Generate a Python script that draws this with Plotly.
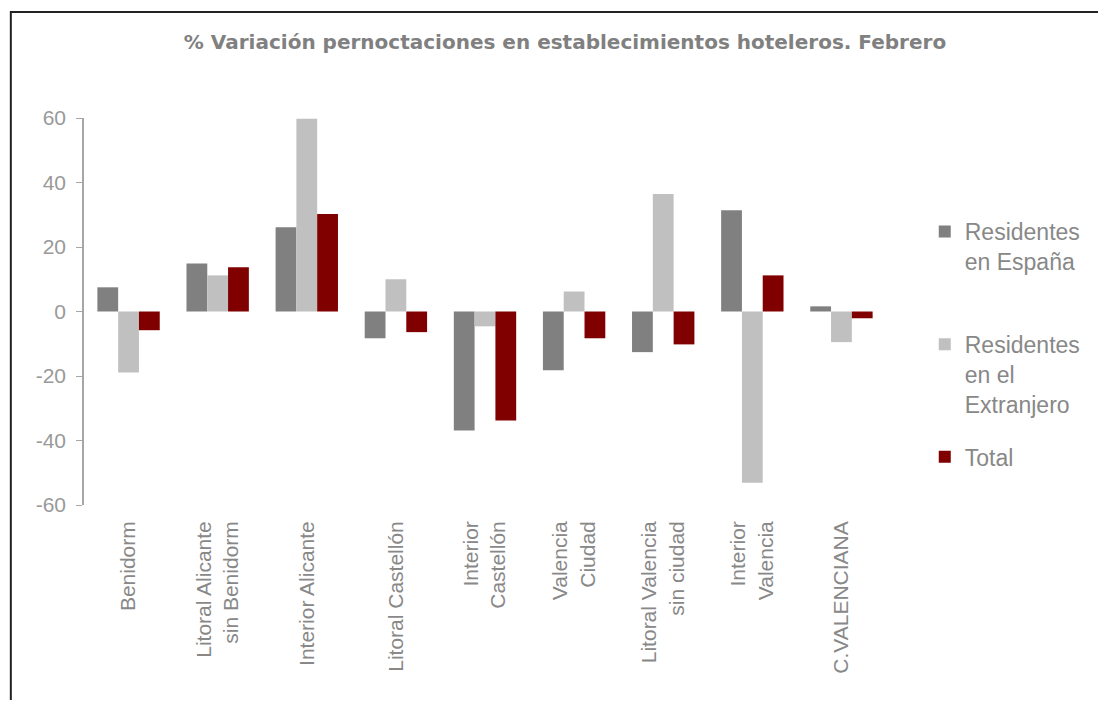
import plotly.graph_objects as go

# ---------------- data ----------------
categories = [
    "Benidorm",
    "Litoral Alicante<br>sin Benidorm",
    "Interior Alicante",
    "Litoral Castellón",
    "Interior<br>Castellón",
    "Valencia<br>Ciudad",
    "Litoral Valencia<br>sin ciudad",
    "Interior<br>Valencia",
    "C.VALENCIANA",
]
residentes_espana = [7.5, 14.9, 26.1, -8.3, -36.9, -18.2, -12.6, 31.4, 1.6]
residentes_extranjero = [-18.9, 11.2, 59.8, 10.0, -4.6, 6.2, 36.4, -53.1, -9.5]
total = [-5.8, 13.7, 30.2, -6.4, -33.8, -8.3, -10.2, 11.2, -2.1]

series_names = ["Residentes<br>en España<br>\u00a0", "Residentes<br>en el<br>Extranjero", "Total"]
y_ticks = [-60, -40, -20, 0, 20, 40, 60]
y_tick_labels = ["-60", "-40", "-20", "0", "20", "40", "60"]
title_text = "% Variación pernoctaciones en establecimientos hoteleros. Febrero"

# ---------------- layout geometry (figure pixels; page adds 8px body margin) ----------------
OFF = 8
W, H = 1106 - 2 * OFF, 708 - 2 * OFF
L, T = 84 - OFF, 118 - OFF
PLOT_R, PLOT_B = 895 - OFF, 505 - OFF
R, B = W - PLOT_R, H - PLOT_B
PW, PH = PLOT_R - L, PLOT_B - T


def px_x(sx):
    """screen x -> paper x"""
    return (sx - OFF - L) / PW


def px_y(sy):
    """screen y -> paper y"""
    return (PLOT_B - (sy - OFF)) / PH


colors = ["#808080", "#C0C0C0", "#800000"]
text_gray = "#888888"
axis_gray = "#A6A6A6"
font_family = "Arial, Liberation Sans, sans-serif"

fig = go.Figure()
for name, vals, col, grp in zip(series_names,
                                [residentes_espana, residentes_extranjero, total],
                                colors, ["g1", "g2", "g3"]):
    fig.add_trace(go.Bar(x=categories, y=vals, name=name, marker_color=col,
                         marker_line_width=0, legendgroup=grp))

n = len(categories)
fig.update_layout(
    width=W, height=H, autosize=False,
    margin=dict(l=L, r=R, t=T, b=B, pad=0),
    paper_bgcolor="white", plot_bgcolor="white",
    bargap=0.3, bargroupgap=0,
    title=dict(text="<b>" + title_text + "</b>", x=(565 - OFF) / W, xanchor="center",
               y=1 - (42 - OFF) / H, yanchor="middle", yref="container",
               font=dict(family="DejaVu Sans, sans-serif", size=20, color="#808080")),
    font=dict(family=font_family, color=text_gray),
    showlegend=True,
    legend=dict(x=px_x(1097), xanchor="right", y=px_y(210), yanchor="top",
                valign="top", traceorder="grouped", tracegroupgap=20,
                font=dict(size=23, color=text_gray, family=font_family),
                bgcolor="rgba(0,0,0,0)", borderwidth=0),
    xaxis=dict(type="category", range=[-0.5, n - 0.5], showline=False, ticks="",
               showgrid=False, zeroline=False, tickangle=-90,
               tickfont=dict(size=21, color=text_gray), ticklabelstandoff=11),
    xaxis2=dict(overlaying="x", anchor="free", position=0.5, range=[-0.5, n - 0.5],
                showline=True, linecolor=axis_gray, linewidth=1.5,
                ticks="outside", ticklen=6, tickcolor="#C8C8C8", tickwidth=2,
                tickvals=[i - 0.5 for i in range(n + 1)], showticklabels=False,
                showgrid=False, zeroline=False),
    yaxis=dict(range=[-60, 60], tickvals=y_ticks, ticktext=y_tick_labels,
               showline=True, linecolor=axis_gray,
               linewidth=1.5, ticks="outside", ticklen=6, tickcolor=axis_gray,
               showgrid=False, zeroline=False, ticklabelposition="outside",
               tickfont=dict(size=21, color="#999999"), ticklabelstandoff=6),
)

fig.add_shape(type="rect", xref="paper", yref="paper",
              x0=px_x(10), x1=px_x(1106 + 20), y0=px_y(708 + 20), y1=px_y(12),
              line=dict(color="#222222", width=2), fillcolor="rgba(0,0,0,0)",
              layer="above")

fig.write_html("out.html")
